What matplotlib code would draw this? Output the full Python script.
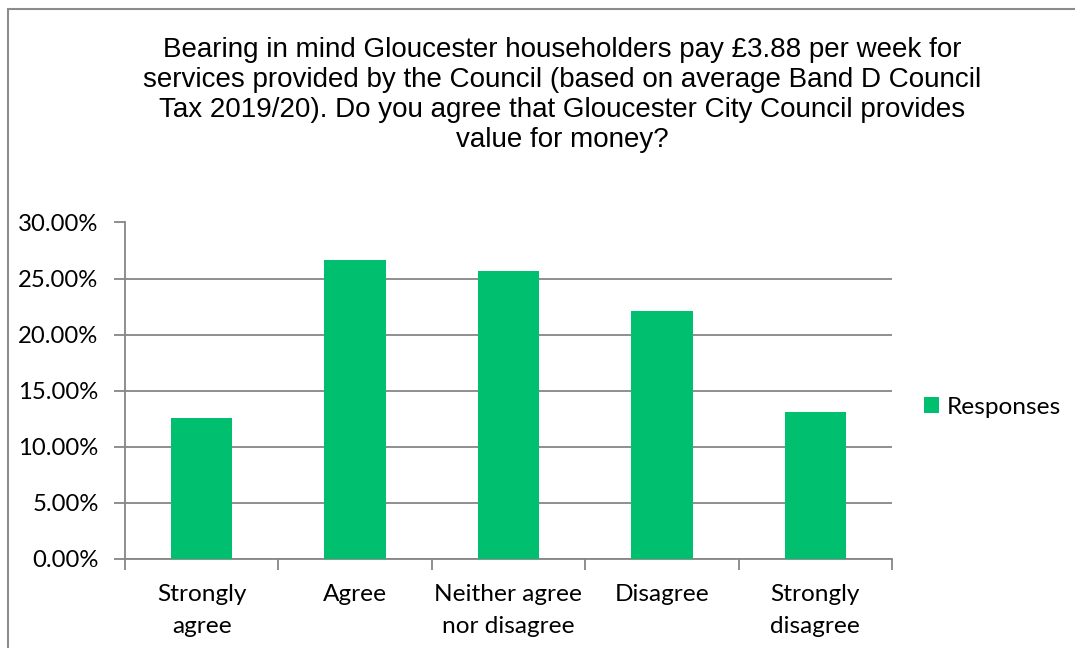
import numpy as np
import matplotlib.pyplot as plt
from matplotlib.patches import Rectangle
from matplotlib.ticker import FuncFormatter

# donnees
categories = ["Strongly\nagree", "Agree", "Neither agree\nnor disagree", "Disagree", "Strongly\ndisagree"]
responses = [0.1253, 0.2663, 0.2567, 0.2210, 0.1306]
yticks = [0.0, 0.05, 0.10, 0.15, 0.20, 0.25, 0.30]
title = ("Bearing in mind Gloucester householders pay \u00a33.88 per week for\n"
         "services provided by the Council (based on average Band D Council\n"
         "Tax 2019/20). Do you agree that Gloucester City Council provides\n"
         "value for money?")

W, H = 1075, 648
green = "#00BF6F"
grey = "#868686"
fs = 17.6

fig = plt.figure(figsize=(W / 100, H / 100), dpi=100)
ax = fig.add_axes([125 / W, 1 - 558.7 / H, 767 / W, 336.2 / H])

x = np.arange(len(categories))
ax.bar(x, responses, width=0.4, color=green, label="Responses", zorder=3)

ax.set_xlim(-0.5, len(categories) - 0.5)
ax.set_ylim(0, 0.30)
ax.set_yticks(yticks)
ax.yaxis.set_major_formatter(FuncFormatter(lambda v, p: "{:.2f}%".format(v * 100)))
ax.grid(axis="y", color=grey, lw=1.3, zorder=0)

# graduations entre les categories, etiquettes au centre
ax.set_xticks(np.arange(-0.5, len(categories)), labels=[""] * (len(categories) + 1))
ax.set_xticks(x, labels=categories, minor=True)
ax.tick_params(axis="x", which="major", length=8, color=grey, width=1.3)
ax.tick_params(axis="x", which="minor", length=0, pad=18)
ax.tick_params(axis="y", length=8, color=grey, width=1.3, pad=11)

for lab in ax.get_xticklabels(minor=True) + ax.get_yticklabels():
    lab.set_fontfamily("Lato")
    lab.set_fontsize(fs)
    lab.set_color("black")
for lab in ax.get_yticklabels():
    lab.set_fontsize(17.2)
for lab in ax.get_xticklabels(minor=True):
    lab.set_linespacing(1.68)

for s in ["top", "right"]:
    ax.spines[s].set_visible(False)
for s in ["left", "bottom"]:
    ax.spines[s].set_color(grey)
    ax.spines[s].set_linewidth(1.3)

fig.text(562 / W, 1 - 37 / H, title, ha="center", va="top", fontsize=20,
         family="Liberation Sans", linespacing=1.2)

fig.legend(loc="center left", bbox_to_anchor=(924 / W, 1 - 407 / H), frameon=False,
           prop={"family": "Lato", "size": fs}, handlelength=0.6, handleheight=0.6,
           handletextpad=0.35, borderaxespad=0, borderpad=0)

# cadre du graphique
fig.add_artist(Rectangle((8 / W, -0.1), 1.2, 1 - 9 / H + 0.1, transform=fig.transFigure,
                         fill=False, ec="#8c8c8c", lw=1.5))

fig.savefig("out.png", dpi=100)
